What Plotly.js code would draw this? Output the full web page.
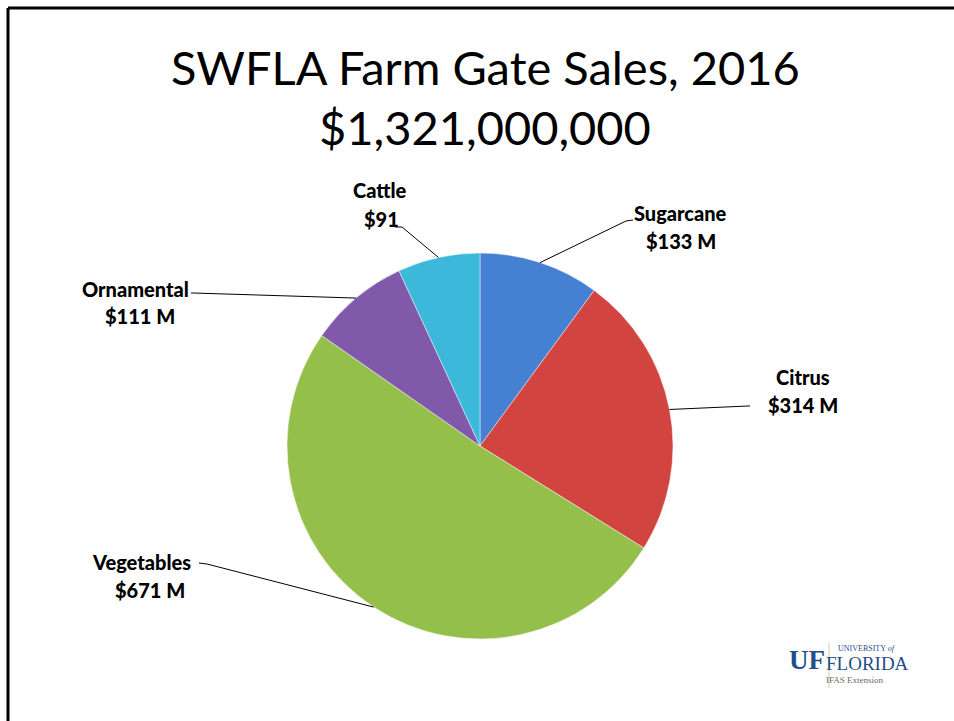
<!DOCTYPE html>
<html>
<head>
<meta charset="utf-8">
<script src="https://cdn.plot.ly/plotly-3.0.1.min.js"></script>
<style>html,body{margin:0;padding:0;background:#fff;overflow:hidden;}#chart{width:954px;height:721px;}</style>
</head>
<body>
<div id="chart"></div>
<script>
// ---- data ----
var categories = ["Sugarcane", "Citrus", "Vegetables", "Ornamental", "Cattle"];
var values = [133, 314, 671, 111, 91];
var valueLabels = ["$133 M", "$314 M", "$671 M", "$111 M", "$91"];
var titleLines = ["SWFLA Farm Gate Sales, 2016", "$1,321,000,000"];

// ---- styling / layout config ----
var colors = ["#4580d2", "#d2443f", "#94bf4a", "#8159ab", "#3cb8da"];
var W = 954, H = 721;
var cx = 480, cy = 446, R = 193;
// label block positions (pixel): [name center x, name y, value center x, value y]
var labelPos = [
  [680, 213, 681, 241],
  [803, 377, 803, 405],
  [141, 562, 150, 590],
  [135, 289, 140, 316],
  [380, 190, 381, 219]
];
// leader-line attachment points near labels (pixel): outer end then elbow
var leaderEnds = [
  [[633, 220], [626, 221]],
  [[750, 406], [748, 406]],
  [[199, 563], [207, 564]],
  [[191, 293], [193, 293]],
  [[395, 227], [402, 227]]
];

function px(x) { return x / W; }
function py(y) { return 1 - y / H; }

var labelFont = { family: "Lato, 'Open Sans', sans-serif", size: 20, color: "#000", weight: 900 };
var total = values.reduce(function (a, b) { return a + b; }, 0);
var shapes = [];
var annotations = [];
var cum = 0;
for (var i = 0; i < values.length; i++) {
  var mid = (cum + values[i] / 2) / total * 2 * Math.PI;
  cum += values[i];
  var ex = cx + R * Math.sin(mid);
  var ey = cy - R * Math.cos(mid);
  var a = leaderEnds[i][0], b = leaderEnds[i][1];
  shapes.push({
    type: "path", xref: "paper", yref: "paper",
    path: "M " + px(a[0]) + " " + py(a[1]) + " L " + px(b[0]) + " " + py(b[1]) + " L " + px(ex) + " " + py(ey),
    line: { color: "#000", width: 1 }
  });
  var lp = labelPos[i];
  annotations.push({
    xref: "paper", yref: "paper", x: px(lp[0]), y: py(lp[1]), xanchor: "center", yanchor: "middle",
    text: categories[i], showarrow: false, font: labelFont
  });
  annotations.push({
    xref: "paper", yref: "paper", x: px(lp[2]), y: py(lp[3]), xanchor: "center", yanchor: "middle",
    text: valueLabels[i], showarrow: false, font: labelFont
  });
}

// title
var titleFont = { family: "Lato, 'Open Sans', sans-serif", size: 47, color: "#000", weight: 400 };
annotations.push({
  xref: "paper", yref: "paper", x: px(485), y: py(67), xanchor: "center", yanchor: "middle",
  text: titleLines[0], showarrow: false, font: titleFont
});
annotations.push({
  xref: "paper", yref: "paper", x: px(485), y: py(127), xanchor: "center", yanchor: "middle",
  text: titleLines[1], showarrow: false, font: titleFont
});

// UF logo (text)
annotations.push({ xref: "paper", yref: "paper", x: px(807), y: py(660), xanchor: "center", yanchor: "middle",
  text: "<b>UF</b>", showarrow: false, font: { family: "'Liberation Serif', 'DejaVu Serif', serif", size: 27, color: "#1f4e8c" } });
annotations.push({ xref: "paper", yref: "paper", x: px(867), y: py(648), xanchor: "center", yanchor: "middle",
  text: "UNIVERSITY <i>of</i>", showarrow: false, font: { family: "'Liberation Serif', serif", size: 8, color: "#1f4e8c" } });
annotations.push({ xref: "paper", yref: "paper", x: px(867), y: py(663), xanchor: "center", yanchor: "middle",
  text: "FLORIDA", showarrow: false, font: { family: "'Liberation Serif', serif", size: 19, color: "#1f4e8c" } });
annotations.push({ xref: "paper", yref: "paper", x: px(855), y: py(680), xanchor: "center", yanchor: "middle",
  text: "IFAS Extension", showarrow: false, font: { family: "'Liberation Serif', serif", size: 9, color: "#6a6a6a" } });
shapes.push({ type: "line", xref: "paper", yref: "paper", x0: px(829), x1: px(829), y0: py(643), y1: py(688),
  line: { color: "#e0c8a8", width: 1 } });

// slide frame (top and left edges)
shapes.push({ type: "line", xref: "paper", yref: "paper", x0: px(8), x1: 1, y0: py(8), y1: py(8), line: { color: "#000", width: 3 } });
shapes.push({ type: "line", xref: "paper", yref: "paper", x0: px(8), x1: px(8), y0: py(8), y1: 0, line: { color: "#000", width: 3 } });

var trace = {
  type: "pie",
  labels: categories,
  values: values,
  sort: false,
  direction: "clockwise",
  rotation: 0,
  textinfo: "none",
  hoverinfo: "label+value",
  marker: { colors: colors, line: { color: "rgba(255,255,255,0.45)", width: 1 } },
  domain: { x: [px(cx - R), px(cx + R)], y: [py(cy + R), py(cy - R)] },
  showlegend: false
};

var layout = {
  width: W, height: H,
  margin: { l: 0, r: 0, t: 0, b: 0 },
  paper_bgcolor: "#fff",
  showlegend: false,
  shapes: shapes,
  annotations: annotations
};

Plotly.newPlot("chart", [trace], layout, { displayModeBar: false, staticPlot: true });
</script>
</body>
</html>
